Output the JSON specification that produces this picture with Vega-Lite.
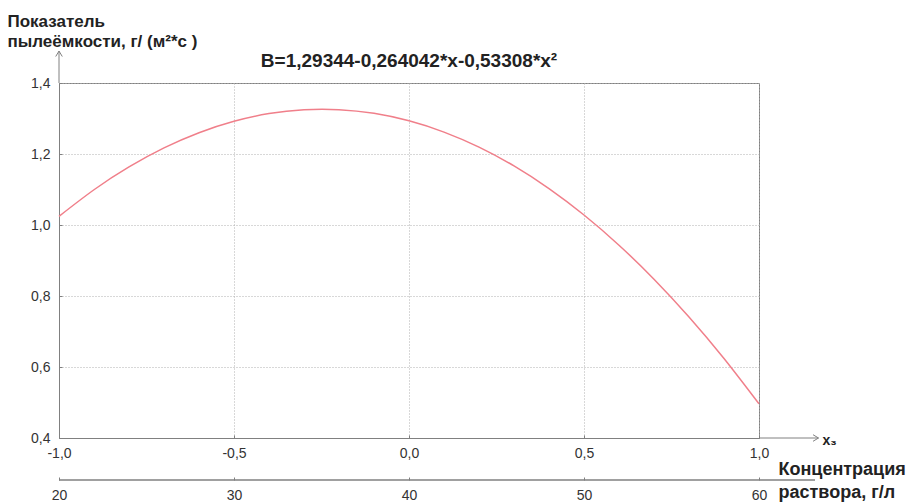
{
  "$schema": "https://vega.github.io/schema/vega-lite/v6.json",
  "width": 700,
  "height": 355,
  "autosize": {"type": "none"},
  "padding": {"left": 59, "top": 83, "right": 149, "bottom": 66},
  "background": "white",
  "config": {
    "font": "Liberation Sans",
    "view": {"stroke": "#808080", "strokeWidth": 1},
    "axis": {
      "labelFont": "Liberation Sans",
      "titleFont": "Liberation Sans",
      "domainColor": "#808080",
      "tickColor": "#808080",
      "labelColor": "#333333",
      "labelFontSize": 14,
      "labelOverlap": false,
      "labelFlush": false,
      "titleColor": "#222222"
    }
  },
  "title": {
    "text": "B=1,29344-0,264042*x-0,53308*x²",
    "font": "Liberation Sans",
    "fontSize": 19,
    "fontWeight": "bold",
    "color": "#222222",
    "offset": -59,
    "anchor": "middle"
  },
  "layer": [
    {
      "layer": [
        {
          "data": {
            "values": [
              {"x": -1.0, "B": 1.0244},
              {"x": -0.9, "B": 1.0993},
              {"x": -0.8, "B": 1.1635},
              {"x": -0.7, "B": 1.2171},
              {"x": -0.6, "B": 1.2600},
              {"x": -0.5, "B": 1.2922},
              {"x": -0.4, "B": 1.3138},
              {"x": -0.3, "B": 1.3247},
              {"x": -0.2, "B": 1.3249},
              {"x": -0.1, "B": 1.3145},
              {"x": 0.0, "B": 1.2934},
              {"x": 0.1, "B": 1.2617},
              {"x": 0.2, "B": 1.2193},
              {"x": 0.3, "B": 1.1663},
              {"x": 0.4, "B": 1.1025},
              {"x": 0.5, "B": 1.0281},
              {"x": 0.6, "B": 0.9431},
              {"x": 0.7, "B": 0.8474},
              {"x": 0.8, "B": 0.7410},
              {"x": 0.9, "B": 0.6240},
              {"x": 1.0, "B": 0.4963}
            ]
          },
          "mark": {"type": "line", "color": "#f07f8a", "strokeWidth": 1.5, "interpolate": "natural"},
          "encoding": {
            "x": {
              "field": "x",
              "type": "quantitative",
              "scale": {"domain": [-1, 1], "nice": false, "zero": false},
              "axis": {
                "values": [-1, -0.5, 0, 0.5, 1],
                "tickCount": 5,
                "labelExpr": "(datum.value < -0.001 ? '-' : '') + replace(format(abs(datum.value),'.1f'),'.',',')",
                "labelOverlap": false,
                "labelFlush": false,
                "tickSize": -3,
                "labelPadding": 11,
                "grid": true,
                "gridDash": [1, 2],
                "gridColor": "#b0b0b0",
                "title": "x₃",
                "titleX": 763,
                "titleY": 6,
                "titleAlign": "left",
                "titleBaseline": "alphabetic",
                "titleFontSize": 14,
                "titleFontWeight": "bold"
              }
            },
            "y": {
              "field": "B",
              "type": "quantitative",
              "scale": {"domain": [0.4, 1.4], "nice": false, "zero": false},
              "axis": {
                "values": [0.4, 0.5, 0.6, 0.7, 0.8, 0.9, 1.0, 1.1, 1.2, 1.3, 1.4],
                "labelExpr": "abs(datum.value*5-round(datum.value*5))<0.01 ? replace(format(datum.value,'.1f'),'.',',') : ''",
                "labelOverlap": false,
                "tickSize": -3,
                "labelPadding": 12,
                "grid": true,
                "gridDash": [1, 2],
                "gridColor": "#b0b0b0",
                "gridOpacity": {"condition": {"test": "abs(datum.value*5-round(datum.value*5))<0.01", "value": 1}, "value": 0},
                "title": ["Показатель", "пылеёмкости, г/ (м²*с )"],
                "titleAngle": 0,
                "titleX": -52,
                "titleY": -57,
                "titleAlign": "left",
                "titleBaseline": "alphabetic",
                "titleFontSize": 17,
                "titleFontWeight": "bold",
                "titleLineHeight": 20
              }
            }
          }
        },
        {
          "data": {"values": [{}]},
          "mark": {"type": "rule", "color": "#808080", "strokeWidth": 1},
          "encoding": {
            "x": {"datum": 1, "type": "quantitative"},
            "x2": {"datum": 1.17},
            "y": {"datum": 0.4, "type": "quantitative"}
          }
        },
        {
          "data": {"values": [{}]},
          "mark": {"type": "point", "shape": "M -1 -0.6 L 0 0 L -1 0.6", "filled": false, "color": "#808080", "strokeWidth": 1, "size": 120, "opacity": 1},
          "encoding": {
            "x": {"datum": 1.17, "type": "quantitative"},
            "y": {"datum": 0.4, "type": "quantitative"}
          }
        },
        {
          "data": {"values": [{}]},
          "mark": {"type": "rule", "color": "#808080", "strokeWidth": 1},
          "encoding": {
            "x": {"datum": -1, "type": "quantitative"},
            "y": {"datum": 1.4, "type": "quantitative"},
            "y2": {"datum": 1.49}
          }
        },
        {
          "data": {"values": [{}]},
          "mark": {"type": "point", "shape": "M -0.6 1 L 0 0 L 0.6 1", "filled": false, "color": "#808080", "strokeWidth": 1, "size": 120, "opacity": 1},
          "encoding": {
            "x": {"datum": -1, "type": "quantitative"},
            "y": {"datum": 1.49, "type": "quantitative"}
          }
        }
      ]
    },
    {
      "data": {"values": [{}]},
      "mark": {"type": "rule", "color": "#808080", "strokeWidth": 1.5},
      "encoding": {
        "x": {
          "datum": 20,
          "type": "quantitative",
          "scale": {"domain": [20, 60], "nice": false, "zero": false},
          "axis": {
            "orient": "bottom",
            "offset": 42,
            "values": [20, 30, 40, 50, 60],
            "format": "d",
            "labelOverlap": false,
            "labelFlush": false,
            "domain": false,
            "grid": false,
            "tickSize": -3,
            "labelPadding": 11,
            "title": ["Концентрация", "раствора, г/л"],
            "titleX": 719,
            "titleY": -6,
            "titleAlign": "left",
            "titleBaseline": "alphabetic",
            "titleFontSize": 18,
            "titleFontWeight": "bold",
            "titleLineHeight": 23
          }
        },
        "x2": {"datum": 63.2},
        "y": {"datum": 0.2817, "type": "quantitative"}
      }
    }
  ],
  "resolve": {"scale": {"x": "independent"}}
}
